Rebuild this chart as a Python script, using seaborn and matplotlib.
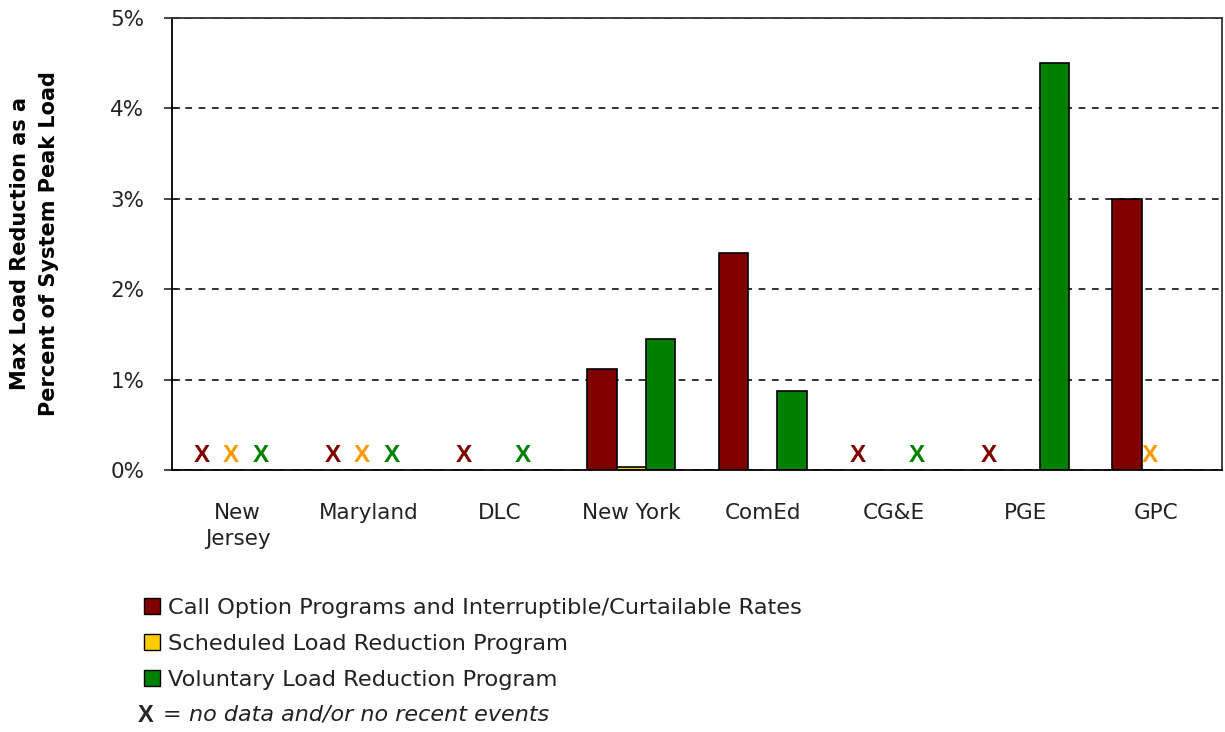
import numpy as np
import pandas as pd
import matplotlib
matplotlib.use("Agg")
import matplotlib.pyplot as plt
import seaborn as sns
from matplotlib.patches import Patch
from matplotlib.ticker import FuncFormatter, MultipleLocator

# values (% of system peak load), NaN = no bar
regions = ["New\nJersey", "Maryland", "DLC", "New York", "ComEd", "CG&E", "PGE", "GPC"]
programs = ["Call Option Programs and Interruptible/Curtailable Rates",
            "Scheduled Load Reduction Program",
            "Voluntary Load Reduction Program"]
call_option = [np.nan, np.nan, np.nan, 1.12, 2.40, np.nan, np.nan, 3.00]
scheduled = [np.nan, np.nan, np.nan, 0.03, np.nan, np.nan, np.nan, np.nan]
voluntary = [np.nan, np.nan, np.nan, 1.45, 0.87, np.nan, 4.50, np.nan]
# 1 = draw an "X" (no data and/or no recent events)
no_data = {
    programs[0]: [1, 1, 1, 0, 0, 1, 1, 0],
    programs[1]: [1, 1, 0, 0, 0, 0, 0, 1],
    programs[2]: [1, 1, 1, 0, 0, 1, 0, 0],
}

bar_colors = ["#800000", "#FFCC00", "#008000"]
x_colors = ["#800000", "#FF9900", "#008000"]

df = pd.DataFrame({
    "region": regions * 3,
    "program": np.repeat(programs, len(regions)),
    "value": call_option + scheduled + voluntary,
})

sns.set_style("white")
plt.rcParams["font.family"] = ["DejaVu Sans"]

fig = plt.figure(figsize=(12.25, 7.32), dpi=100)
ax = fig.add_axes([172 / 1225, 1 - 470 / 732, 1050 / 1225, 452 / 732])

width = 0.67
sns.barplot(data=df, x="region", y="value", hue="program", palette=bar_colors,
            edgecolor="black", linewidth=1.2, width=width, ax=ax, legend=False,
            saturation=1)

# X markers for missing programs
n = len(programs)
for j, p in enumerate(programs):
    off = (j - (n - 1) / 2) * width / n - 0.05
    for i, flag in enumerate(no_data[p]):
        if flag:
            ax.text(i + off, 0.16, "X", color=x_colors[j], fontsize=17.5,
                    fontweight="bold", family="Liberation Sans",
                    ha="center", va="center")

ax.set_xlim(-0.5, len(regions) - 0.5)
ax.set_ylim(0, 5)
ax.yaxis.set_major_locator(MultipleLocator(1))
ax.yaxis.set_major_formatter(FuncFormatter(lambda v, _: f"{v:.0f}%"))
ax.grid(axis="y", color="#111111", linestyle=(0, (4, 4)), linewidth=1.2)
ax.set_axisbelow(True)

for s in ax.spines.values():
    s.set_color("black")
    s.set_linewidth(1.3)
ax.spines["top"].set_color("#333333")
ax.spines["right"].set_color("#333333")

ax.set_xticks(range(len(regions)))
ax.set_xticklabels(regions, fontsize=15.5, color="#222222", linespacing=1.35)
ax.set_xticks(np.arange(-0.5, len(regions)), minor=True)
ax.tick_params(axis="x", which="major", length=0, pad=24)
ax.tick_params(axis="x", which="minor", length=8, width=1.3, direction="out", color="black")
ax.tick_params(axis="y", length=12, width=1.2, direction="inout", labelsize=15.5,
               labelcolor="#222222", pad=14, left=True)
for lab in ax.get_xticklabels():
    lab.set_verticalalignment("top")

ax.set_xlabel("")
ax.set_ylabel("Max Load Reduction as a\nPercent of System Peak Load", fontsize=15,
              fontweight="bold", color="black", labelpad=37, linespacing=1.55)

handles = [Patch(facecolor=c, edgecolor="black", linewidth=1) for c in bar_colors]
fig.legend(handles, programs, loc="upper left", bbox_to_anchor=(135 / 1225, 1 - 589 / 732),
           frameon=False, fontsize=16.2, handlelength=0.72, handleheight=0.72,
           handletextpad=0.35, labelspacing=0.7, borderaxespad=0,
           labelcolor="#222222")
fig.text(138 / 1225, 1 - 715 / 732, "X", fontsize=17, fontweight="bold", va="center",
         family="Liberation Sans")
fig.text(163 / 1225, 1 - 715 / 732, "=", fontsize=16, va="center", color="#222222")
fig.text(189 / 1225, 1 - 715 / 732, "no data and/or no recent events", fontsize=16,
         style="italic", va="center", color="#222222")

fig.savefig("out.png", dpi=100, facecolor="white")
